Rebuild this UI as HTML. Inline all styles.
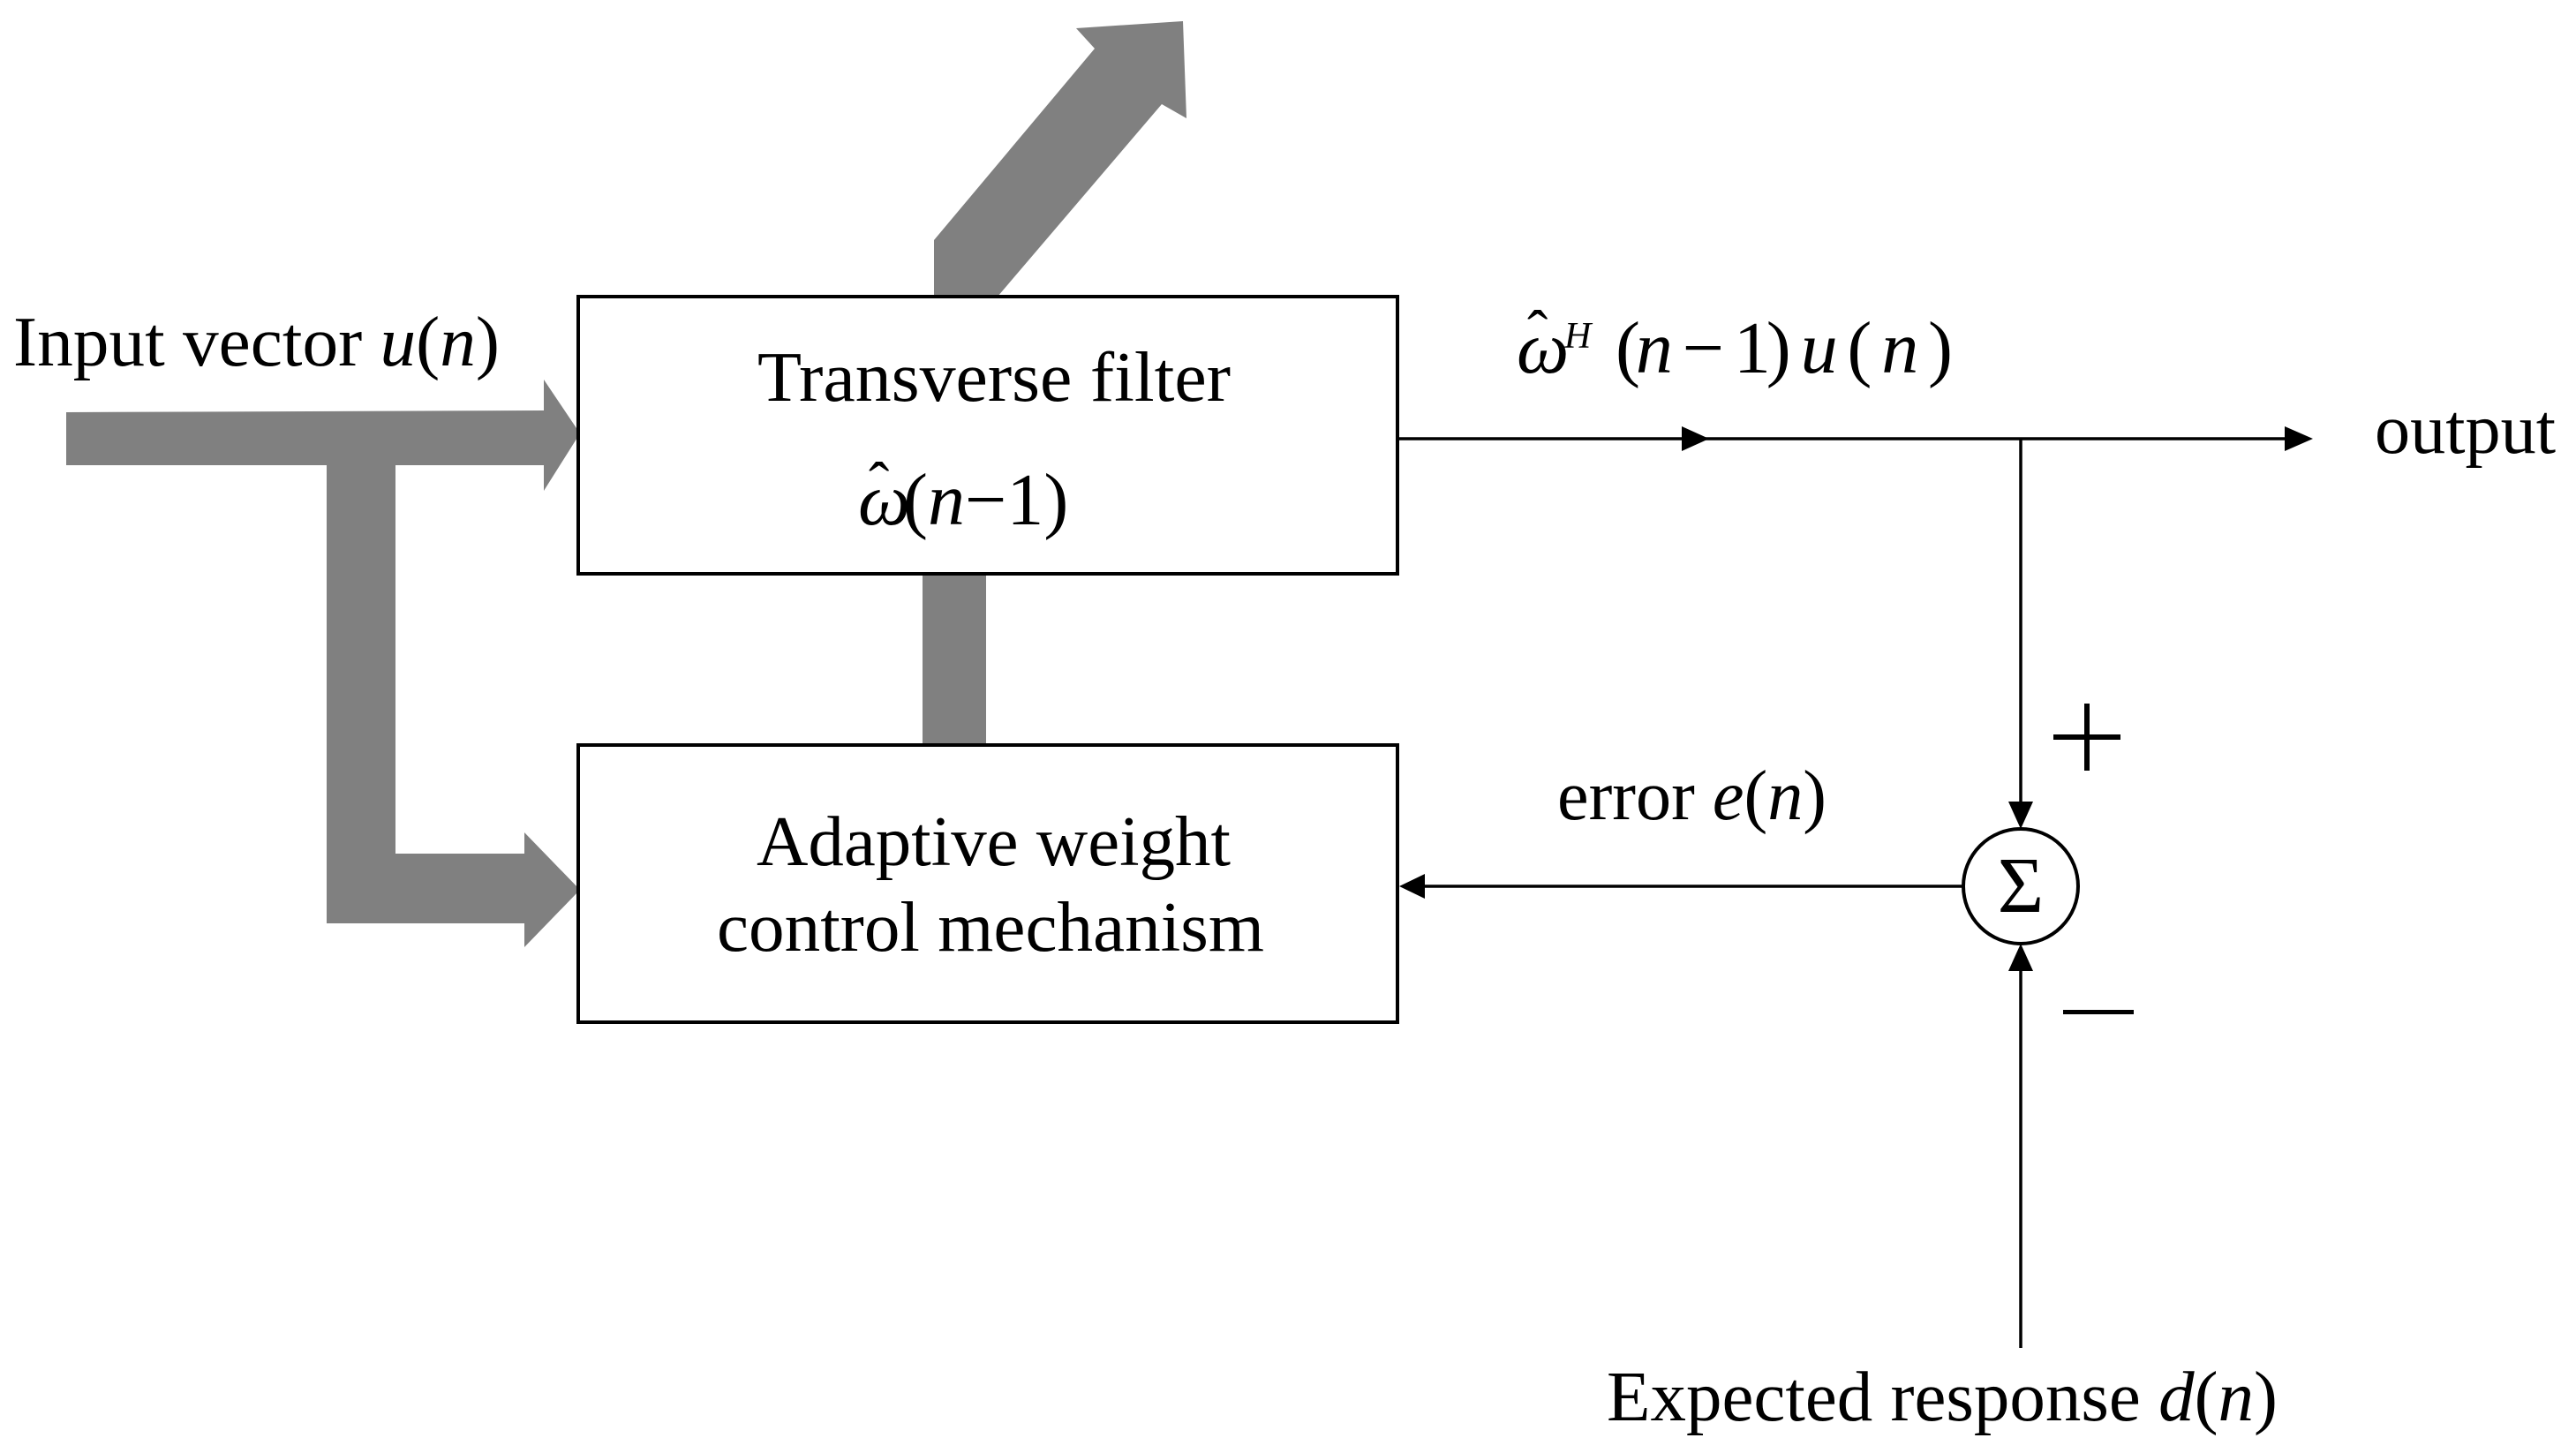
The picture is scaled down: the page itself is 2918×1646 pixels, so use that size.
<!DOCTYPE html>
<html><head><meta charset="utf-8"><style>html,body{margin:0;padding:0;background:#fff}svg{display:block}</style></head>
<body>
<svg width="2918" height="1646" viewBox="0 0 2918 1646" xmlns="http://www.w3.org/2000/svg" font-family="Liberation Serif, serif" font-size="80" fill="#000">
<g fill="#808080">
<polygon points="75,467 616,465 616,430 657,491 616,556 616,527 448,527 448,967 594,967 594,943 657,1008 594,1073 594,1046 370,1046 370,527 75,527"/>
<rect x="1045" y="650" width="72" height="194"/>
<polygon points="1058,336 1058,272 1240,55 1219,32 1340,24 1344,134 1316,118 1130,336"/>
</g>
<g fill="none" stroke="#000" stroke-width="4">
<rect x="655" y="336" width="928" height="314"/>
<rect x="655" y="844" width="928" height="314"/>
<circle cx="2289" cy="1004" r="65"/>
</g>
<g stroke="#000" stroke-width="3.5" fill="none">
<line x1="1583" y1="497" x2="2590" y2="497"/>
<line x1="2289" y1="497" x2="2289" y2="912"/>
<line x1="2224" y1="1004" x2="1610" y2="1004"/>
<line x1="2289" y1="1527" x2="2289" y2="1097"/>
</g>
<g fill="#000">
<polygon points="1905,483 1936,497 1905,511"/>
<polygon points="2588,483 2620,497 2588,511"/>
<polygon points="2275,908 2289,939 2303,908"/>
<polygon points="2275,1100 2289,1069 2303,1100"/>
<polygon points="1614,990 1585,1004 1614,1018"/>
</g>
<text x="15" y="414" textLength="551" lengthAdjust="spacingAndGlyphs">Input vector <tspan font-style="italic">u</tspan>(<tspan font-style="italic">n</tspan>)</text>
<text x="858" y="454" textLength="536" lengthAdjust="spacingAndGlyphs">Transverse filter</text>
<text x="972" y="594" font-style="italic" font-size="84">ω</text>
<text x="984" y="572" font-size="70">ˆ</text>
<text x="1023" y="594" font-size="84">(<tspan font-style="italic">n</tspan>−1)</text>
<text x="857" y="980" textLength="537" lengthAdjust="spacingAndGlyphs">Adaptive weight</text>
<text x="812" y="1077" textLength="620" lengthAdjust="spacingAndGlyphs">control mechanism</text>
<text x="1718" y="422" font-style="italic" font-size="84">ω</text>
<text x="1730" y="400" font-size="70">ˆ</text>
<text x="1772" y="394" font-style="italic" font-size="42">H</text>
<text x="1830" y="422" font-size="84" textLength="382" lengthAdjust="spacing">(<tspan font-style="italic">n</tspan> − 1) <tspan font-style="italic">u</tspan> ( <tspan font-style="italic">n</tspan> )</text>
<text x="2690" y="513" textLength="205" lengthAdjust="spacingAndGlyphs">output</text>
<text x="1764" y="928" textLength="305" lengthAdjust="spacingAndGlyphs">error <tspan font-style="italic">e</tspan>(<tspan font-style="italic">n</tspan>)</text>
<text x="2289" y="1033" text-anchor="middle" font-size="90">Σ</text>
<rect x="2326" y="832" width="76" height="6"/>
<rect x="2361" y="797" width="6" height="76"/>
<rect x="2337" y="1144" width="80" height="5"/>
<text x="1820" y="1609" textLength="760" lengthAdjust="spacingAndGlyphs">Expected response <tspan font-style="italic">d</tspan>(<tspan font-style="italic">n</tspan>)</text>
</svg>
</body></html>
